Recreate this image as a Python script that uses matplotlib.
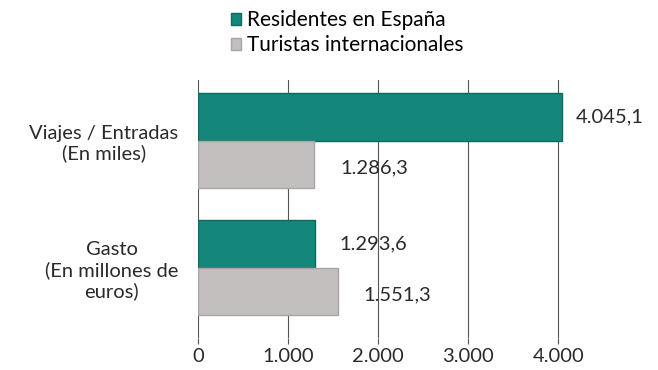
import matplotlib.pyplot as plt
import numpy as np

# datos
categorias = ['Viajes / Entradas\n(En miles)', 'Gasto\n(En millones de\neuros)']
residentes = [4045.1, 1293.6]
turistas = [1286.3, 1551.3]
etiquetas_res = ['4.045,1', '1.293,6']
etiquetas_tur = ['1.286,3', '1.551,3']
ticks_x = [0, 1000, 2000, 3000, 4000]
ticks_x_lbl = ['0', '1.000', '2.000', '3.000', '4.000']

plt.rcParams['font.family'] = ['Lato', 'DejaVu Sans']

verde = '#15877a'
gris = '#c4bfbf'
texto = '#2a2a2a'

fig = plt.figure(figsize=(6.58, 3.70), dpi=100)
ax = fig.add_axes([0.301, 0.086, 0.561, 0.698])

y = np.arange(len(categorias))
h = 0.375
b1 = ax.barh(y - h / 2, residentes, height=h, color=verde, edgecolor='#0e6a5c',
             linewidth=1, label='Residentes en España', zorder=3)
b2 = ax.barh(y + h / 2, turistas, height=h, color=gris, edgecolor='#a9a5a5',
             linewidth=1, label='Turistas internacionales', zorder=3)

for i in range(len(categorias)):
    off = 14 if i == 0 else 25
    ax.annotate(etiquetas_res[i], (residentes[i], y[i] - h / 2), xytext=(off, 0),
                textcoords='offset pixels', va='center', ha='left', fontsize=14.5, color=texto)
    ax.annotate(etiquetas_tur[i], (turistas[i], y[i] + h / 2 + 0.03), xytext=(26, 0),
                textcoords='offset pixels', va='center', ha='left', fontsize=14.5, color=texto)

ax.set_xlim(0, 4100)
ax.set_ylim(1 + 0.555, -0.477)
ax.set_xticks(ticks_x)
ax.set_xticklabels(ticks_x_lbl, fontsize=14.5, color=texto)
ax.set_yticks(y)
ax.set_yticklabels(categorias, fontsize=14.5, color=texto, multialignment='center')
ax.tick_params(axis='y', length=0, pad=14)
ax.tick_params(axis='x', length=4, color='#555555', pad=3)
ax.grid(axis='x', color='#555555', linewidth=0.8, zorder=0)
for s in ax.spines.values():
    s.set_visible(False)

fig.legend(handles=[b1, b2], loc='upper left', bbox_to_anchor=(0.338, 0.995),
           frameon=False, fontsize=15, handlelength=0.5, handleheight=0.5,
           handletextpad=0.3, labelspacing=0.25, borderaxespad=0)

fig.savefig('out.png', dpi=100)
